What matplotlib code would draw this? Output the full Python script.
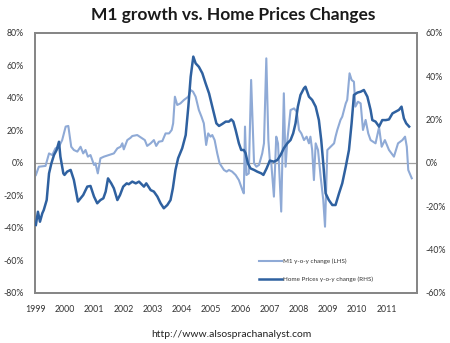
import matplotlib
matplotlib.use("Agg")
import matplotlib.pyplot as plt
from matplotlib.ticker import FuncFormatter

plt.rcParams['font.family'] = ['Lato', 'DejaVu Sans']

# M1 money supply, y-o-y change (%), left axis
m1_year = [1999.00, 1999.10, 1999.33, 1999.45, 1999.56, 1999.67, 1999.79, 1999.90,
           2000.02, 2000.11, 2000.21, 2000.30, 2000.42, 2000.53, 2000.62, 2000.70,
           2000.78, 2000.87, 2000.99, 2001.04, 2001.12, 2001.21, 2001.33, 2001.50,
           2001.67, 2001.79, 2001.90, 2001.96, 2002.01, 2002.13, 2002.24, 2002.30,
           2002.47, 2002.64, 2002.73, 2002.81, 2002.93, 2003.04, 2003.12, 2003.21,
           2003.33, 2003.44, 2003.56, 2003.65, 2003.70, 2003.76, 2003.84, 2003.95,
           2004.07, 2004.22, 2004.30, 2004.38, 2004.47, 2004.58, 2004.67, 2004.75,
           2004.83, 2004.90, 2004.98, 2005.04, 2005.12, 2005.21, 2005.29, 2005.44,
           2005.53, 2005.61, 2005.72, 2005.84, 2005.95, 2006.07, 2006.12, 2006.16,
           2006.21, 2006.29, 2006.37, 2006.47, 2006.55, 2006.64, 2006.75, 2006.81,
           2006.89, 2006.96, 2007.01, 2007.06, 2007.15, 2007.23, 2007.29, 2007.40,
           2007.49, 2007.55, 2007.61, 2007.72, 2007.84, 2007.93, 2008.01, 2008.09,
           2008.18, 2008.27, 2008.35, 2008.40, 2008.46, 2008.52, 2008.58, 2008.66,
           2008.75, 2008.84, 2008.90, 2008.98, 2009.09, 2009.21, 2009.26, 2009.32,
           2009.43, 2009.49, 2009.61, 2009.66, 2009.74, 2009.81, 2009.89, 2009.94,
           2010.03, 2010.12, 2010.20, 2010.29, 2010.38, 2010.46, 2010.63, 2010.75,
           2010.84, 2010.95, 2011.09, 2011.26, 2011.40, 2011.55, 2011.64, 2011.70,
           2011.75, 2011.87]
m1_chg = [-7.4, -2.3, -1.8, 5.9, 4.9, 9.0, 10.0, 14.1,
          22.4, 22.8, 10.0, 8.0, 7.0, 10.0, 5.9, 8.0,
          3.9, 4.9, -1.2, -0.2, -6.4, 2.9, 3.9, 4.9,
          5.9, 9.0, 10.0, 12.1, 8.4, 14.1, 15.5, 16.6,
          17.2, 15.2, 14.1, 10.5, 12.1, 14.1, 10.5, 13.1,
          13.5, 18.2, 18.2, 20.3, 24.4, 40.8, 35.7, 36.7,
          38.8, 40.8, 44.9, 43.9, 40.8, 32.6, 28.5, 24.4,
          11.1, 18.2, 16.2, 17.2, 14.1, 5.9, -0.2, -4.3,
          -5.3, -4.3, -5.3, -7.4, -10.5, -16.6, -18.7, 22.4,
          -7.4, -6.4, 51.1, -0.2, -2.3, -1.2, 5.9, 12.1,
          64.4, 14.1, 1.8, -0.2, -20.7, 16.2, 12.1, -29.9,
          42.9, -2.3, 14.1, 32.6, 33.6, 31.6, 20.3, 18.2,
          14.1, 16.2, 12.1, 16.2, 8.0, -10.5, 12.1, 8.0,
          -8.4, -22.8, -39.2, 8.0, 10.0, 12.1, 16.2, 20.3,
          26.5, 28.5, 36.7, 38.8, 55.2, 51.1, 50.0, 34.7,
          37.7, 36.7, 20.3, 26.5, 18.2, 14.1, 12.1, 22.0,
          10.0, 14.1, 8.0, 3.9, 12.1, 14.1, 16.2, 10.0,
          -4.3, -9.4]

# Home prices, y-o-y change (%), right axis
hp_year = [1999.00, 1999.07, 1999.14, 1999.22, 1999.27, 1999.37, 1999.45, 1999.53,
           1999.62, 1999.71, 1999.79, 1999.84, 1999.94, 1999.98, 2000.07, 2000.19,
           2000.30, 2000.44, 2000.53, 2000.62, 2000.76, 2000.87, 2000.99, 2001.10,
           2001.21, 2001.31, 2001.39, 2001.47, 2001.58, 2001.67, 2001.79, 2001.88,
           2001.99, 2002.11, 2002.18, 2002.30, 2002.42, 2002.53, 2002.70, 2002.78,
           2002.93, 2003.04, 2003.16, 2003.27, 2003.38, 2003.50, 2003.61, 2003.69,
           2003.78, 2003.87, 2004.01, 2004.13, 2004.22, 2004.30, 2004.39, 2004.47,
           2004.58, 2004.70, 2004.81, 2004.93, 2005.04, 2005.18, 2005.27, 2005.38,
           2005.50, 2005.61, 2005.69, 2005.76, 2005.84, 2005.95, 2006.03, 2006.12,
           2006.18, 2006.26, 2006.35, 2006.47, 2006.58, 2006.72, 2006.79, 2006.90,
           2007.01, 2007.15, 2007.27, 2007.38, 2007.49, 2007.61, 2007.72, 2007.81,
           2007.89, 2007.97, 2008.06, 2008.18, 2008.23, 2008.35, 2008.46, 2008.58,
           2008.69, 2008.77, 2008.84, 2008.92, 2009.03, 2009.15, 2009.26, 2009.38,
           2009.49, 2009.61, 2009.72, 2009.81, 2009.89, 2010.01, 2010.12, 2010.23,
           2010.35, 2010.46, 2010.52, 2010.63, 2010.75, 2010.86, 2010.98, 2011.09,
           2011.21, 2011.32, 2011.43, 2011.52, 2011.60, 2011.68, 2011.78]
hp_chg = [-28.6, -22.5, -27.1, -23.2, -21.7, -17.1, -4.8, -0.2,
          3.7, 6.0, 9.8, 2.9, -4.8, -5.5, -4.0, -3.2,
          -7.8, -17.8, -16.3, -14.8, -10.9, -10.6, -15.5, -18.6,
          -17.1, -16.3, -13.2, -7.1, -9.4, -11.7, -17.1, -14.8,
          -10.9, -9.4, -9.8, -8.6, -9.4, -8.6, -10.9, -9.4,
          -12.5, -13.2, -15.5, -18.6, -20.9, -19.4, -17.1, -11.7,
          -3.2, 2.2, 6.8, 12.9, 26.0, 39.8, 49.1, 46.0,
          44.4, 41.4, 36.8, 32.1, 26.0, 18.3, 17.1, 18.0,
          19.1, 19.1, 20.1, 19.1, 15.2, 9.1, 6.0, 6.0,
          4.5, -0.2, -2.5, -3.2, -4.0, -4.8, -5.5, -2.5,
          1.1, 0.6, 1.4, 3.7, 6.8, 9.1, 10.6, 13.7,
          18.3, 26.0, 31.4, 34.5, 35.2, 30.6, 29.1, 26.0,
          19.8, 10.6, -0.2, -14.0, -17.1, -19.4, -19.4, -14.0,
          -9.4, -1.7, 6.0, 18.3, 31.4, 32.5, 32.9, 33.7,
          30.6, 24.5, 19.8, 19.1, 16.8, 19.8, 19.8, 20.1,
          22.9, 23.7, 24.5, 26.0, 20.6, 18.3, 16.8]

years = list(range(1999, 2012))
left_ticks = [-80, -60, -40, -20, 0, 20, 40, 60, 80]
right_ticks = [-60, -40, -20, 0, 20, 40, 60]

light_blue = '#8FAAD6'
dark_blue = '#2F61A0'
frame_gray = '#868686'
text_col = '#333333'

fig = plt.figure(figsize=(4.5, 3.43), dpi=100)
ax = fig.add_axes([0.0778, 0.1458, 0.8489, 0.758])
ax2 = ax.twinx()

ax.axhline(0, color='#A0A0A0', lw=0.9, zorder=1)
l1, = ax.plot(m1_year, m1_chg, color=light_blue, lw=1.5, zorder=2,
              label='M1 y-o-y change (LHS)')
l2, = ax2.plot(hp_year, hp_chg, color=dark_blue, lw=1.8, zorder=3,
               label='Home Prices y-o-y change (RHS)')

ax.set_xlim(1998.97, 2012.05)
ax.set_ylim(-80, 80)
ax2.set_ylim(-60, 60)
ax.set_xticks(years)
ax.set_xticklabels([str(y) for y in years])
ax.set_yticks(left_ticks)
ax2.set_yticks(right_ticks)
pct = FuncFormatter(lambda v, _: f'{v:.0f}%')
ax.yaxis.set_major_formatter(pct)
ax2.yaxis.set_major_formatter(pct)

for a in (ax, ax2):
    a.tick_params(length=0, labelsize=6.3, colors=text_col)
    for s in a.spines.values():
        s.set_color(frame_gray)
        s.set_linewidth(1.3)
ax.tick_params(axis='y', pad=8)
ax.tick_params(axis='x', pad=9)
ax2.tick_params(axis='y', pad=6)

ax2.legend(handles=[l1, l2], loc='lower left', bbox_to_anchor=(0.578, 0.03),
           frameon=False, fontsize=4.5, handlelength=3.7, handletextpad=0.15,
           labelspacing=2.0, borderpad=0, labelcolor=text_col)

fig.text(0.518, 0.955, 'M1 growth vs. Home Prices Changes', ha='center', va='center',
         fontsize=12.5, fontweight='bold', color='#1a1a1a')
fig.text(0.515, 0.026, 'http://www.alsosprachanalyst.com', ha='center', va='center',
         fontsize=7.5, color='#222222')

fig.savefig('out.png', dpi=100)
